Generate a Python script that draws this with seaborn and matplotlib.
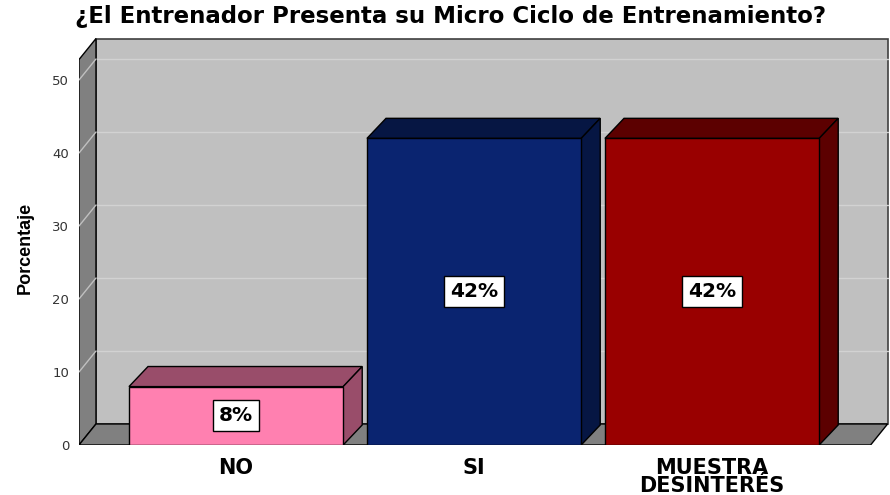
import matplotlib
matplotlib.use("Agg")
import matplotlib.pyplot as plt
import seaborn as sns
import numpy as np
from matplotlib.patches import Polygon, Rectangle
import matplotlib.colors as mcolors

title = "¿El Entrenador Presenta su Micro Ciclo de Entrenamiento?"
categories = ["NO", "SI", "MUESTRA\nDESINTERÉS"]
values = [8, 42, 42]
labels = ["8%", "42%", "42%"]
colors = ["#FF80B0", "#0A2470", "#990000"]
yticks = [0, 10, 20, 30, 40, 50]
ylabel = "Porcentaje"

sns.set_theme(style="white")
plt.rcParams['font.family'] = ['DejaVu Sans']

W, H = 890, 495
fig = plt.figure(figsize=(W / 100, H / 100), dpi=100)
px_per_unit = 7.3
ax_left_px, ax_right_px, ax_bottom_px, ax_top_px = 79, 889, 445, 37
ax = fig.add_axes([ax_left_px / W, (H - ax_bottom_px) / H,
                   (ax_right_px - ax_left_px) / W, (ax_bottom_px - ax_top_px) / H])

sns.barplot(x=categories, y=values, hue=categories, palette=colors, width=0.9,
            saturation=1, legend=False, ax=ax, edgecolor="black", linewidth=1,
            zorder=3)

x0, x1 = -0.66, 2.666
wall_h = 52.8
dx, dy = 0.0714, 2.88
ax.set_xlim(x0, x0 + (ax_right_px - ax_left_px) / 238.0)
ax.set_ylim(0, (ax_bottom_px - ax_top_px) / px_per_unit)

# back wall
ax.add_patch(Rectangle((x0 + dx, dy), x1 - x0, wall_h, facecolor="#C0C0C0",
                       edgecolor="#404040", linewidth=1.2, zorder=0.5))
# grid lines
for v in yticks[1:]:
    ax.plot([x0 + dx, x1 + dx], [v + dy, v + dy], color="#D2D2D2", lw=1, zorder=0.6)
# side wall
ax.add_patch(Polygon([(x0, 0), (x0, wall_h), (x0 + dx, wall_h + dy), (x0 + dx, dy)],
                     closed=True, facecolor="#808080", edgecolor="black",
                     linewidth=1, zorder=0.7))
for v in yticks[1:]:
    ax.plot([x0, x0 + dx], [v, v + dy], color="#C0C0C0", lw=1, zorder=0.75)
# floor
ax.add_patch(Polygon([(x0, 0), (x1, 0), (x1 + dx, dy), (x0 + dx, dy)],
                     closed=True, facecolor="#808080", edgecolor="black",
                     linewidth=1, zorder=0.8))

# 3D faces of bars
bdx, bdy = 0.08, 2.75
bars = [pp for pp in ax.patches if pp.get_zorder() == 3]
for p, lab in zip(bars, labels):
    x, w, h = p.get_x(), p.get_width(), p.get_height()
    rgb = np.array(mcolors.to_rgb(p.get_facecolor()))
    dark = rgb * 0.6
    ax.add_patch(Polygon([(x, h), (x + w, h), (x + w + bdx, h + bdy), (x + bdx, h + bdy)],
                         closed=True, facecolor=dark, edgecolor="black", lw=1, zorder=2.9))
    ax.add_patch(Polygon([(x + w, 0), (x + w + bdx, bdy), (x + w + bdx, h + bdy), (x + w, h)],
                         closed=True, facecolor=dark, edgecolor="black", lw=1, zorder=2.9))
    ax.text(x + w / 2, h / 2, lab, ha="center", va="center", fontsize=14.5,
            fontweight="bold", color="black", zorder=5,
            bbox=dict(boxstyle="square,pad=0.3", facecolor="white",
                      edgecolor="black", linewidth=1))

for s in ax.spines.values():
    s.set_visible(False)
ax.set_yticks(yticks)
ax.set_yticklabels([str(v) for v in yticks], color="#333333", fontsize=9.5)
ax.set_xticks(range(len(categories)))
ax.set_xticklabels(categories, fontsize=15, fontweight="bold", color="black",
                   linespacing=0.9, va="top")
ax.tick_params(axis="y", length=0, pad=7)
ax.tick_params(axis="x", length=0, pad=9)
ax.set_xlabel("")
ax.set_ylabel("")
ax.grid(False)
ax.set_facecolor("none")

fig.text(451 / W, 1 - 17 / H, title, ha="center", va="center", fontsize=16.5,
         fontweight="bold", color="black")
fig.text(25 / W, 1 - 248 / H, ylabel, rotation=90, ha="center", va="center",
         fontsize=13, fontweight="bold",
         family=["Liberation Sans Narrow", "Liberation Sans", "DejaVu Sans"],
         color="black")

fig.savefig("out.png", dpi=100, facecolor="white")
